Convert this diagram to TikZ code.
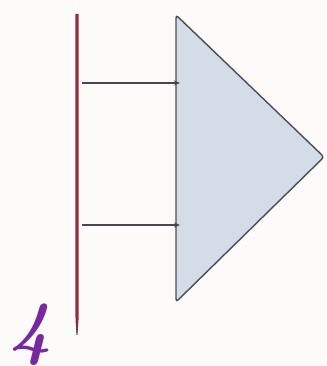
\documentclass[tikz,border=0pt]{standalone}
\usetikzlibrary{arrows.meta}
\definecolor{bgc}{RGB}{253,251,249}
\definecolor{needle}{RGB}{150,40,68}
\definecolor{trifill}{RGB}{212,220,232}
\definecolor{triedge}{RGB}{75,77,85}
\definecolor{arrowc}{RGB}{70,72,80}
\definecolor{numc}{RGB}{120,40,160}
\tikzset{
  conn/.style={draw=arrowc, line width=1.3pt, -{Stealth[length=6pt,width=5pt]}},
  tri/.style={fill=trifill, draw=triedge, line width=1.4pt, rounded corners=3pt},
  numlabel/.style={text=numc, font=\fontsize{72}{72}\selectfont\bfseries\itshape, inner sep=0pt}
}
\begin{document}
\begin{tikzpicture}[x=1pt,y=1pt]
\fill[bgc] (0,0) rectangle (326,366);
\useasboundingbox (0,0) rectangle (326,366);
% needle line
\coordinate (ltop) at (77,352);
\coordinate (lbot) at (77,30);
\fill[needle] (75.3,352) -- (78.7,352) -- (78.5,46) -- (77.3,31) -- (76.7,31) -- (75.5,46) -- cycle;
\fill[black!70] (75.9,40) -- (78.1,40) -- (77.3,31) -- (76.7,31) -- cycle;
% triangle
\coordinate (ta) at (176,351);
\coordinate (tb) at (176,64);
\coordinate (tc) at (324,209);
\draw[tri] (ta) -- (tc) -- (tb) -- cycle;
% arrows
\coordinate (s1) at (82,283);
\coordinate (e1) at (180,283);
\coordinate (s2) at (82,141);
\coordinate (e2) at (180,141);
\draw[conn] (s1) -- (e1);
\draw[conn] (s2) -- (e2);
% label
\node[numlabel] (four) at (31,31) {4};
\end{tikzpicture}
\end{document}
